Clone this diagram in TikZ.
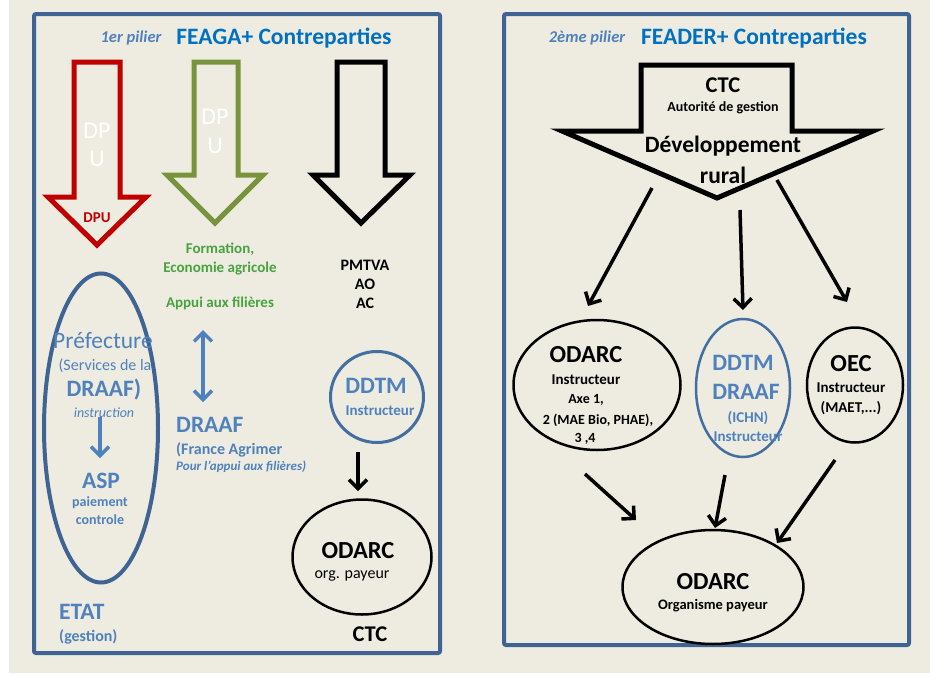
\documentclass[tikz,border=0pt]{standalone}
\usepackage{fontspec}
\setmainfont{Carlito}
\usetikzlibrary{arrows.meta,shapes.geometric}
\definecolor{fond}{HTML}{EEECE1}
\definecolor{cadre}{HTML}{3F6494}
\definecolor{titre}{HTML}{0070C0}
\definecolor{bleu}{HTML}{4F81BD}
\definecolor{rouge}{HTML}{C00000}
\definecolor{olive}{HTML}{77933C}
\definecolor{vert}{HTML}{48A23F}
\newcommand\taille[1]{\fontsize{#1}{#1}\selectfont}
\begin{document}
\begin{tikzpicture}[x=1pt,y=-1pt,
  fl/.style={line width=3.5pt,-{Straight Barb[length=9pt,width=18pt]}},
  ell/.style={draw,ellipse,inner sep=0pt},
  gros/.style={line width=5pt,miter limit=20},
  txt/.style={inner sep=0pt,font=\bfseries\taille{15}}]
\useasboundingbox (0,0) rectangle (930,675);
\fill[white] (0,0) rectangle (930,675);
\fill[fond] (9,0) rectangle (930,673);
\draw[cadre,line width=4pt,rounded corners=2pt] (34,14) rectangle (440,653);
\draw[cadre,line width=4pt,rounded corners=2pt] (504,14) rectangle (909,645);

\node[txt,bleu,font=\bfseries\itshape\taille{16.5}] (pil1) at (131,38) {1er pilier};
\node[txt,titre,font=\bfseries\taille{23.5}] (feaga) at (284,38) {FEAGA+ Contreparties};

\draw[rouge,gros] (74,62) -- (120,62) -- (120,197) -- (146,197) -- (97,245) -- (48,197) -- (74,197) -- cycle;
\draw[olive,gros] (194,62) -- (238,62) -- (238,175) -- (263,175) -- (215,223) -- (167,175) -- (194,175) -- cycle;
\draw[black,gros] (337,62) -- (385,62) -- (385,175) -- (410,175) -- (361,223) -- (313,175) -- (337,175) -- cycle;

\node[txt,white,font=\taille{24}] (dp1) at (97,131) {DP};
\node[txt,white,font=\taille{24}] (u1) at (97,159) {U};
\node[txt,rouge] (dpu) at (97,218) {DPU};
\node[txt,white,font=\taille{24}] (dp2) at (215,117) {DP};
\node[txt,white,font=\taille{24}] (u2) at (215,146) {U};

\node[txt,vert] (form) at (220,249) {Formation,};
\node[txt,vert] (eco) at (220,269) {Economie agricole};
\node[txt,vert] (appui) at (220,303) {Appui aux filières};

\node[txt,font=\bfseries\taille{16}] (pmtva) at (365,265) {PMTVA};
\node[txt,font=\bfseries\taille{16}] (ao) at (365,284) {AO};
\node[txt,font=\bfseries\taille{16}] (ac) at (365,303) {AC};

\node[ell,cadre,line width=4pt,minimum width=114pt,minimum height=309pt] (etat) at (101,428) {};
\node[txt,bleu,font=\taille{23.5}] (pref) at (103,341) {Préfecture};
\node[txt,bleu,font=\taille{16}] (serv) at (105,366) {(Services de la};
\node[txt,bleu,font=\bfseries\taille{23.5}] (draaf1) at (104,390) {DRAAF)};
\node[txt,bleu,font=\itshape\taille{14}] (instr) at (104,413) {instruction};
\coordinate (b1) at (100,417);
\coordinate (b2) at (100,458);
\draw[fl,bleu] (b1) -- (b2);
\node[txt,bleu,font=\bfseries\taille{23.5}] (asp) at (101,481) {ASP};
\node[txt,bleu,font=\bfseries\taille{14}] (paie) at (100,503) {paiement};
\node[txt,bleu,font=\bfseries\taille{14}] (ctrl) at (100,520) {controle};
\node[txt,bleu,font=\bfseries\taille{23.5},anchor=west] (etatl) at (59,612) {ETAT};
\node[txt,bleu,font=\bfseries\taille{16},anchor=west] (gest) at (59,637) {(gestion)};

\coordinate (h1) at (203,330);
\coordinate (h2) at (203,402);
\draw[fl,bleu,{Straight Barb[length=9pt,width=18pt]}-{Straight Barb[length=9pt,width=18pt]}] (h1) -- (h2);
\node[txt,bleu,font=\bfseries\taille{23.5},anchor=west] (draaf2) at (176,425) {DRAAF};
\node[txt,bleu,font=\bfseries\taille{16},anchor=west] (agri) at (176,450) {(France Agrimer};
\node[txt,bleu,font=\bfseries\itshape\taille{13},anchor=west] (pour) at (176,467) {Pour l’appui aux filières)};

\node[ell,bleu!85!black,line width=3pt,minimum width=93pt,minimum height=91pt] (ddtm) at (377,397) {};
\node[txt,bleu,font=\bfseries\taille{23.5}] (ddtm1) at (376,386) {DDTM};
\node[txt,bleu] (ddtm2) at (380,411) {Instructeur};
\coordinate (g1) at (358,452);
\coordinate (g2) at (358,491);
\draw[fl] (g1) -- (g2);
\node[ell,line width=2.5pt,minimum width=139pt,minimum height=115pt] (odarcg) at (362,557) {};
\node[txt,font=\bfseries\taille{24.5}] (odarcg1) at (358,551) {ODARC};
\node[txt,font=\taille{16}] (odarcg2) at (352,576) {org. payeur};
\node[txt,font=\bfseries\taille{22.5}] (ctcg) at (370,634) {CTC};

\node[txt,bleu,font=\bfseries\itshape\taille{16.5}] (pil2) at (587,38) {2ème pilier};
\node[txt,titre,font=\bfseries\taille{23.5}] (feader) at (754,38) {FEADER+ Contreparties};

\draw[black,gros] (641,65) -- (792,65) -- (792,131) -- (873,131) -- (717,198) -- (562,131) -- (641,131) -- cycle;
\node[txt,font=\bfseries\taille{22.5}] (ctcd) at (723,85) {CTC};
\node[txt,font=\bfseries\taille{14}] (autor) at (723,108) {Autorité de gestion};
\node[txt,font=\bfseries\taille{23.5}] (dev) at (723,146) {Développement};
\node[txt,font=\bfseries\taille{23.5}] (rural) at (723,175) {rural};

\coordinate (c1s) at (652,188);
\coordinate (c1e) at (588,306);
\coordinate (c2s) at (740,210);
\coordinate (c2e) at (743,310);
\coordinate (c3s) at (777,180);
\coordinate (c3e) at (847,302);
\draw[fl] (c1s) -- (c1e);
\draw[fl] (c2s) -- (c2e);
\draw[fl] (c3s) -- (c3e);

\node[ell,line width=2.5pt,minimum width=167pt,minimum height=130pt] (odarc) at (597,385) {};
\node[txt,font=\bfseries\taille{24.5}] (odarc1) at (586,355) {ODARC};
\node[txt] (odarc2) at (586,380) {Instructeur};
\node[txt,font=\bfseries\taille{14}] (odarc3) at (586,400) {Axe 1,};
\node[txt,font=\bfseries\taille{14}] (odarc4) at (598,420) {2 (MAE Bio, PHAE),};
\node[txt,font=\bfseries\taille{14}] (odarc5) at (585,439) {3 ,4};

\node[ell,bleu!85!black,line width=2.5pt,minimum width=94pt,minimum height=138pt] (ddtmd) at (743,388) {};
\node[txt,bleu,font=\bfseries\taille{23.5}] (ddtmd1) at (743,363) {DDTM};
\node[txt,bleu,font=\bfseries\taille{23.5}] (ddtmd2) at (746,392) {DRAAF};
\node[txt,bleu] (ddtmd3) at (748,418) {(ICHN)};
\node[txt,bleu] (ddtmd4) at (748,437) {Instructeur};

\node[ell,line width=2.5pt,minimum width=96pt,minimum height=115pt] (oec) at (855,385) {};
\node[txt,font=\bfseries\taille{24.5}] (oec1) at (851,364) {OEC};
\node[txt] (oec2) at (851,388) {Instructeur};
\node[txt] (oec3) at (851,408) {(MAET,...)};

\coordinate (d1s) at (585,474);
\coordinate (d1e) at (636,520);
\coordinate (d2s) at (725,475);
\coordinate (d2e) at (715,528);
\coordinate (d3s) at (835,460);
\coordinate (d3e) at (777,543);
\draw[fl] (d1s) -- (d1e);
\draw[fl] (d2s) -- (d2e);
\draw[fl] (d3s) -- (d3e);

\node[ell,line width=2.5pt,minimum width=181pt,minimum height=114pt] (odarcp) at (713,587) {};
\node[txt,font=\bfseries\taille{24.5}] (odarcp1) at (713,582) {ODARC};
\node[txt,font=\bfseries\taille{14.5}] (odarcp2) at (713,606) {Organisme payeur};
\end{tikzpicture}
\end{document}
